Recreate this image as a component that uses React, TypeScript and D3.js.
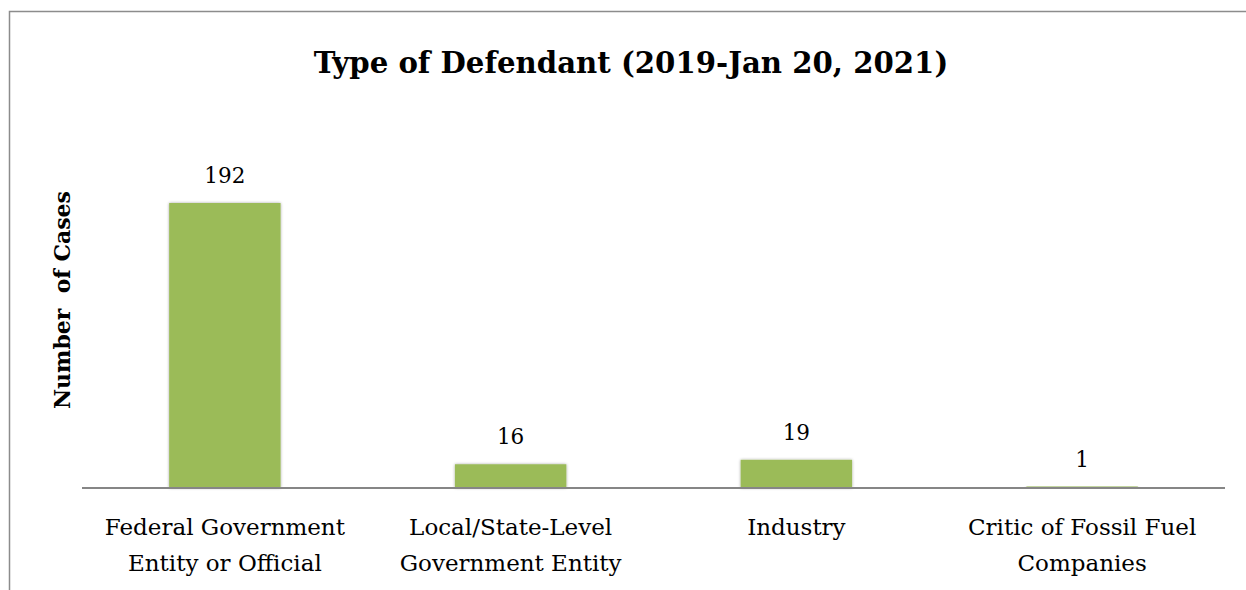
import React, { useEffect, useRef } from "react";
import * as d3 from "d3";

const categories: string[][] = [
  ["Federal Government", "Entity or Official"],
  ["Local/State-Level", "Government Entity"],
  ["Industry"],
  ["Critic of Fossil Fuel", "Companies"],
];
const values: number[] = [192, 16, 19, 1];
const title = "Type of Defendant (2019-Jan 20, 2021)";
const yTitle = "Number  of Cases";

const W = 1246;
const H = 590;
const FONT = "'DejaVu Serif', 'Liberation Serif', serif";

export default function App() {
  const ref = useRef<SVGSVGElement | null>(null);
  useEffect(() => {
    const svg = d3.select(ref.current);
    svg.selectAll("*").remove();

    const defs = svg.append("defs");
    const f = defs.append("filter").attr("id", "sh").attr("x", "-10%").attr("y", "-10%").attr("width", "120%").attr("height", "120%");
    f.append("feGaussianBlur").attr("in", "SourceAlpha").attr("stdDeviation", 1.5).attr("result", "b");
    f.append("feOffset").attr("in", "b").attr("dx", 0).attr("dy", 0).attr("result", "o");
    f.append("feComponentTransfer").attr("in", "o").attr("result", "o2")
      .append("feFuncA").attr("type", "linear").attr("slope", 0.35);
    const m = f.append("feMerge");
    m.append("feMergeNode").attr("in", "o2");
    m.append("feMergeNode").attr("in", "SourceGraphic");

    // frame
    svg.append("rect").attr("x", 9.5).attr("y", 11.5).attr("width", 1300).attr("height", 700)
      .attr("fill", "white").attr("stroke", "#8c8c8c").attr("stroke-width", 1.5);

    const left = 82, right = 1225, baseY = 488;
    const x = d3.scaleBand<number>().domain(d3.range(values.length)).range([left, right]).paddingInner(0.61).paddingOuter(0.305);
    const y = d3.scaleLinear().domain([0, 192]).range([baseY, 203]);

    const g = svg.append("g");
    g.selectAll("rect.bar").data(values).enter().append("rect")
      .attr("class", "bar")
      .attr("x", (_, i) => x(i)!)
      .attr("width", x.bandwidth())
      .attr("y", (d) => y(d))
      .attr("height", (d) => baseY - y(d))
      .attr("fill", "#9bbb59")
      .attr("filter", "url(#sh)");

    // axis line
    svg.append("line").attr("x1", left).attr("x2", right).attr("y1", baseY).attr("y2", baseY)
      .attr("stroke", "#868686").attr("stroke-width", 2);

    // value labels
    g.selectAll("text.val").data(values).enter().append("text")
      .attr("x", (_, i) => x(i)! + x.bandwidth() / 2)
      .attr("y", (d) => y(d) - 20)
      .attr("text-anchor", "middle")
      .attr("font-family", FONT).attr("font-size", 21.5).attr("fill", "#000")
      .text((d) => d3.format("d")(d));

    // category labels
    categories.forEach((lines, i) => {
      const t = svg.append("text").attr("text-anchor", "middle")
        .attr("font-family", FONT).attr("font-size", 23).attr("fill", "#000");
      lines.forEach((ln, j) => {
        t.append("tspan").attr("x", x(i)! + x.bandwidth() / 2).attr("y", 535 + j * 36).text(ln);
      });
    });

    // title
    svg.append("text").attr("x", 631).attr("y", 73).attr("text-anchor", "middle")
      .attr("font-family", FONT).attr("font-weight", "bold").attr("font-size", 29.2).attr("fill", "#000")
      .text(title);

    // y title
    svg.append("text").attr("transform", "translate(70,300) rotate(-90)").attr("text-anchor", "middle")
      .attr("font-family", FONT).attr("font-weight", "bold").attr("font-size", 22).attr("fill", "#000")
      .attr("xml:space", "preserve").style("white-space", "pre")
      .text(yTitle);
  }, []);
  return <svg ref={ref} width={W} height={H} style={{ display: "block", position: "absolute", left: 0, top: 0 }} />;
}
